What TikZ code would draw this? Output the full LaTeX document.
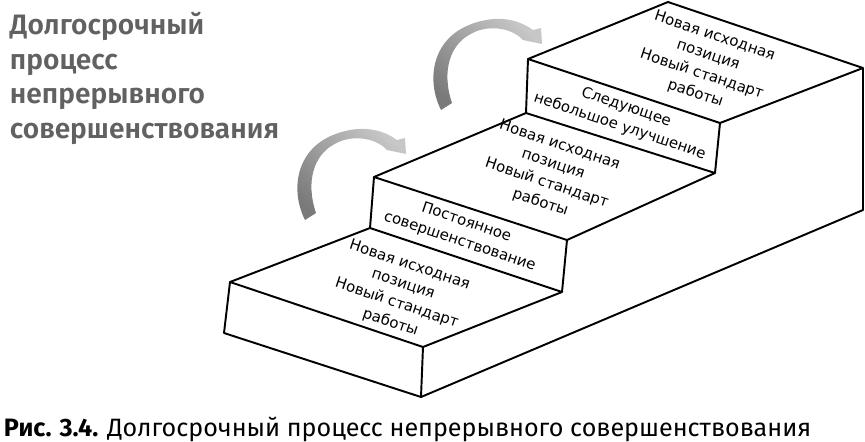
\documentclass[tikz,border=0pt]{standalone}
\usepackage{fontspec}
\usepackage{tikz}
\setmainfont{Fira Sans}
\newfontfamily\stepfont{DejaVu Sans}
\newfontfamily\titlefont{Fira Sans SemiBold}

\tikzset{
	steptext/.style={align=center,rotate=-18.5,inner sep=0pt,font=\stepfont\fontsize{8.5}{11.5}\selectfont},
	turnarrow/.style={draw=none,top color=black!22,bottom color=black!52,shading angle=-45}
}

\begin{document}
\begin{tikzpicture}[x=0.02cm,y=-0.02cm,line width=1.1pt,line join=round]
		\useasboundingbox (0,0) rectangle (865,441);
		% corners of the stairs
		\coordinate (s1a) at (230,282);
		\coordinate (s1b) at (224,333);
		\coordinate (s1c) at (421,397);
		\coordinate (s1d) at (423,347);
		\coordinate (s1e) at (370,228);
		\coordinate (s1f) at (562,292);
		\coordinate (r1a) at (374,177);
		\coordinate (r1b) at (567,240);
		\coordinate (s2a) at (526,113);
		\coordinate (s2b) at (715,173);
		\coordinate (r2a) at (528,59);
		\coordinate (r2b) at (720,123);
		\coordinate (s3a) at (668,2);
		\coordinate (s3b) at (863,68);
		\coordinate (s3c) at (863,210);
		
		\draw (s1a) -- (s1b) -- (s1c) -- (s1d) -- cycle;
		\draw (s1a) -- (s1e) -- (s1f) -- (s1d);
		\draw (s1e) -- (r1a) -- (r1b) -- (s1f);
		\draw (r1a) -- (s2a) -- (s2b) -- (r1b);
		\draw (s2a) -- (r2a) -- (r2b) -- (s2b);
		\draw (r2a) -- (s3a) -- (s3b) -- (r2b);
		\draw (s1c) -- (s3c) -- (s3b);
		
		% texts on the steps
		\foreach \x/\y/\n in {400/294/one,550/174/two,705/65/three}
		{
		\node[steptext] (base\n) at (\x,\y) {Новая исходная\\позиция\\Новый стандарт\\работы};
		}
		\node[steptext] (riserone) at (463,232) {Постоянное\\совершенствование};
		\node[steptext] (risertwo) at (623,117) {Следующее\\небольшое улучшение};
		
		% grey arrows
		\foreach \dx/\dy in {0/0,136/-110}
		{
		\shade[turnarrow,shift={(\dx,\dy)}] (305,220) .. controls (290,190) and (296,150) .. (333,135)
			.. controls (350,128) and (375,124) .. (397,140) -- (405,138) -- (406,154) -- (387,150)
			.. controls (375,137) and (350,134) .. (333,145) .. controls (315,155) and (305,180) .. (316,213) -- cycle;
		}
		
		\node[anchor=base west,align=left,inner sep=0pt,text=black!62,font=\titlefont\fontsize{16}{19.6}\selectfont] (title) at (9,138) {Долгосрочный\\процесс\\непрерывного\\совершенствования};
		\node[anchor=base west,inner sep=0pt,font=\fontsize{14.3}{17}\selectfont] (caption) at (3,436) {\textbf{Рис. 3.4.} Долгосрочный процесс непрерывного совершенствования};
	\end{tikzpicture}
\end{document}
